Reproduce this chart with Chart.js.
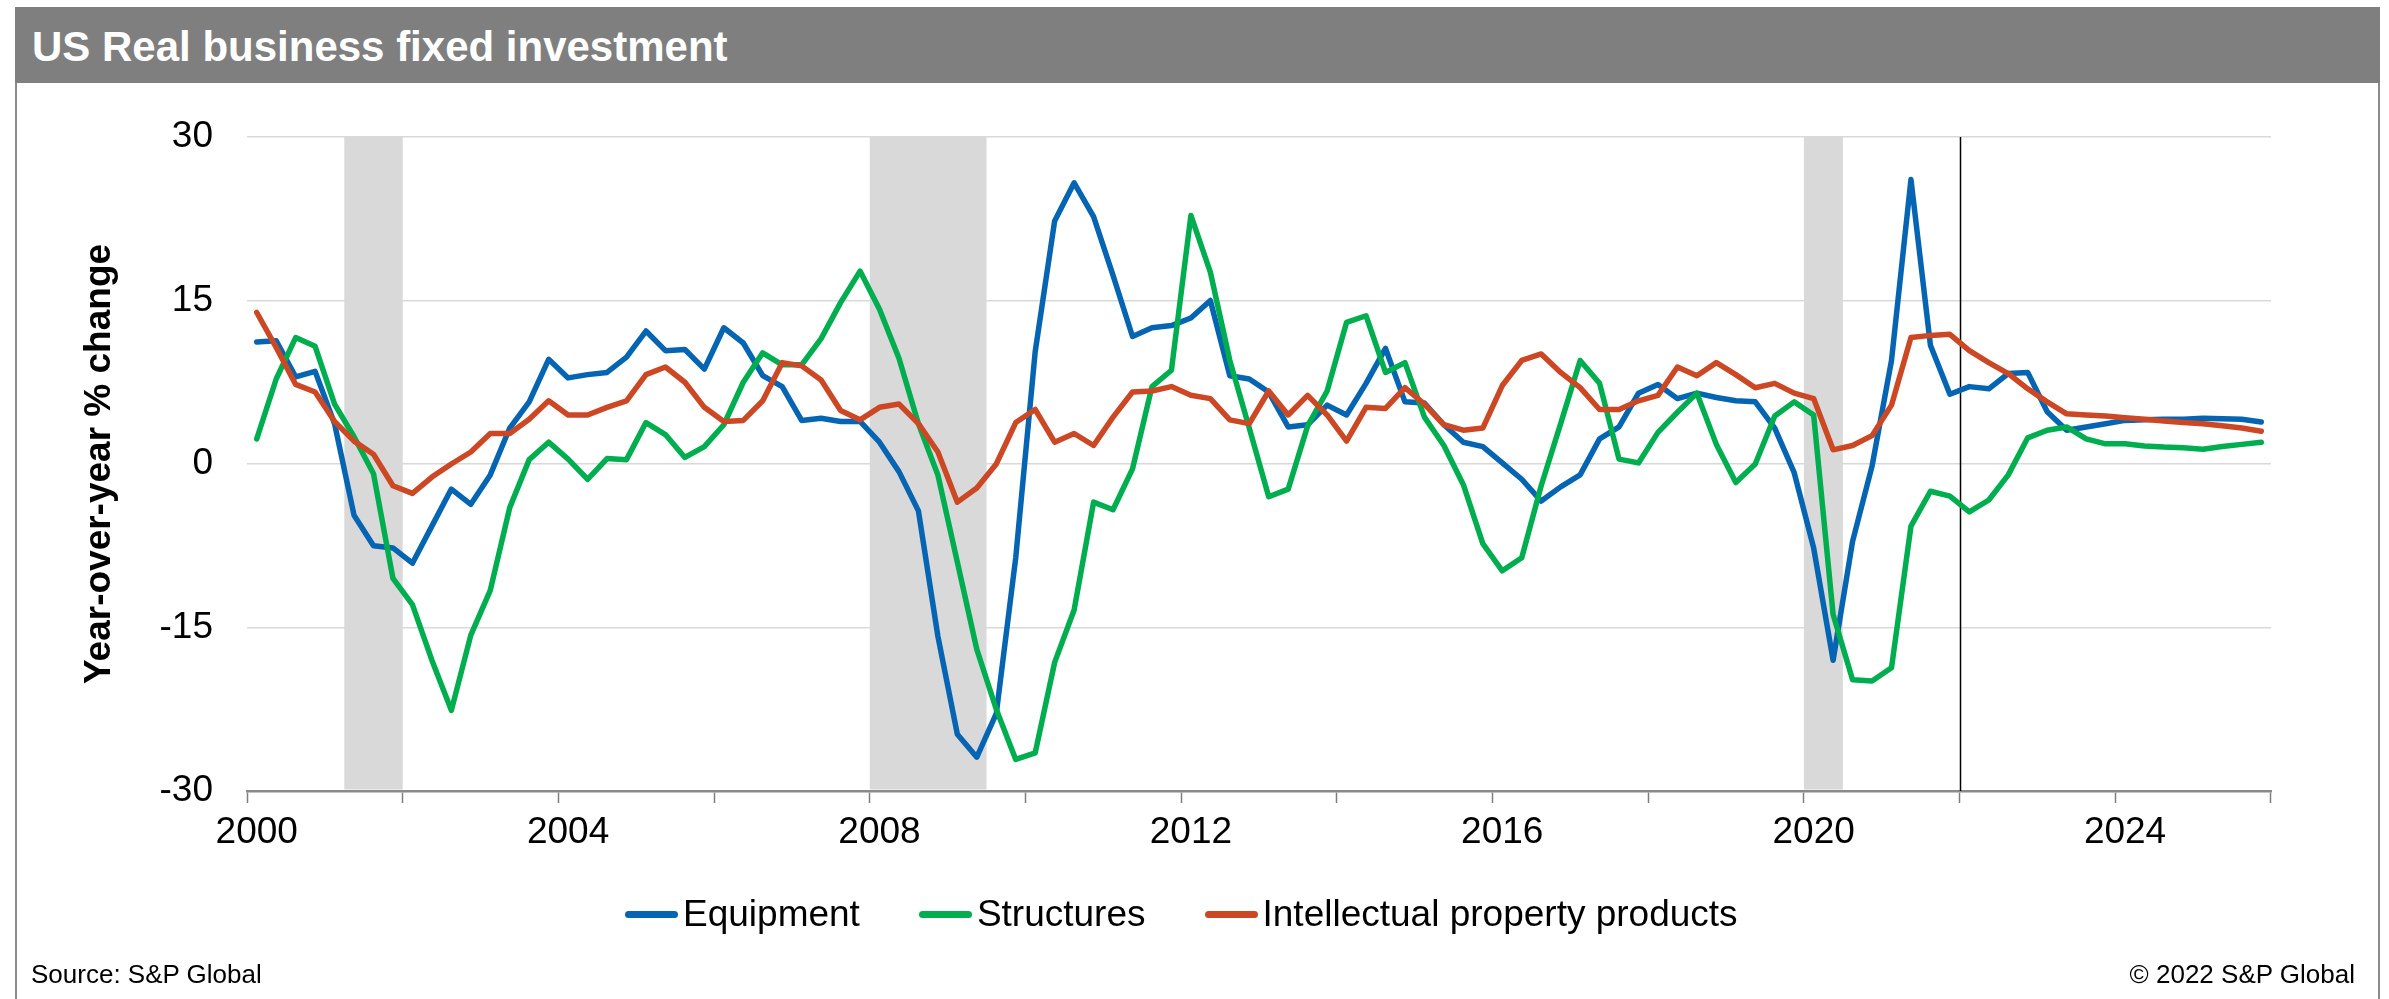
<!DOCTYPE html>
<html>
<head>
<meta charset="utf-8">
<title>US Real business fixed investment</title>
<script src="https://cdn.jsdelivr.net/npm/chart.js@4.4.1/dist/chart.umd.min.js"></script>
<style>
    html, body { margin: 0; padding: 0; background: #fff; }
    body { width: 2389px; height: 999px; position: relative; overflow: hidden; font-family: "Liberation Sans", Arial, sans-serif; color: #000; }
    .frame { position: absolute; left: 15px; top: 7px; width: 2361px; height: 1020px; border-left: 2px solid #8a8a8a; border-right: 2px solid #8a8a8a; box-sizing: border-box; width: 2365px; }
    .title-bar { position: absolute; left: 15px; top: 7px; width: 2365px; height: 76px; background: #7f7f7f; color: #fff; font-weight: bold; font-size: 42px; line-height: 76px; padding: 2px 0 0 17px; box-sizing: border-box; }
    #chart { position: absolute; left: 0; top: 0; }
    .legend { position: absolute; left: 625px; top: 892px; height: 44px; display: flex; align-items: center; font-size: 37px; line-height: 44px; }
    .legend-item { display: flex; align-items: center; margin-right: 59px; }
    .legend-line { width: 53px; height: 7px; border-radius: 4px; margin-right: 5px; }
    .source { position: absolute; left: 31px; top: 959px; font-size: 26px; line-height: 30px; }
    .copy { position: absolute; right: 34px; top: 959px; font-size: 26px; line-height: 30px; }
</style>
</head>
<body>
<div class="frame"></div>
<div class="title-bar">US Real business fixed investment</div>
<canvas id="chart" width="2389" height="999"></canvas>
<div class="legend" id="legend"></div>
<div class="source">Source: S&amp;P Global</div>
<div class="copy">© 2022 S&amp;P Global</div>

<script>
// quarterly categories 2000Q1 .. 2025Q4
const years = [];
for (let y = 2000; y <= 2025; y++) years.push(y);
const quarters = [];
years.forEach(y => { for (let q = 1; q <= 4; q++) quarters.push(y + 'Q' + q); });

const equipment = [
    11.2, 11.3, 8.0, 8.5, 3.7, -4.7, -7.5, -7.7,
    -9.1, -5.7, -2.3, -3.7, -1.0, 3.3, 5.7, 9.6,
    7.9, 8.2, 8.4, 9.8, 12.2, 10.4, 10.5, 8.7,
    12.5, 11.1, 8.1, 7.1, 4.0, 4.2, 3.9, 3.9,
    2.0, -0.7, -4.3, -15.8, -24.8, -26.9, -22.9, -8.6,
    10.3, 22.3, 25.8, 22.7, 17.3, 11.7, 12.5, 12.7,
    13.4, 15.0, 8.1, 7.8, 6.6, 3.4, 3.6, 5.4,
    4.5, 7.4, 10.6, 5.7, 5.6, 3.6, 2.0, 1.6,
    0.1, -1.4, -3.4, -2.1, -1.0, 2.3, 3.4, 6.5,
    7.3, 6.0, 6.5, 6.1, 5.8, 5.7, 3.3, -0.8,
    -7.7, -18.0, -7.1, -0.2, 9.5, 26.1, 10.9, 6.4,
    7.1, 6.9, 8.3, 8.4, 4.8, 3.1, 3.4, 3.7,
    4.0, 4.05, 4.1, 4.1, 4.2, 4.15, 4.1, 3.85
];
const structures = [
    2.3, 7.8, 11.6, 10.8, 5.5, 2.5, -0.9, -10.5,
    -12.9, -18.0, -22.6, -15.7, -11.6, -4.0, 0.4, 2.0,
    0.45, -1.4, 0.5, 0.4, 3.8, 2.7, 0.6, 1.6,
    3.6, 7.5, 10.2, 9.1, 9.1, 11.5, 14.8, 17.7,
    14.2, 9.7, 3.7, -1.0, -9.0, -17.0, -22.5, -27.1,
    -26.5, -18.2, -13.4, -3.5, -4.2, -0.45, 7.1, 8.6,
    22.8, 17.6, 9.5, 3.3, -3.0, -2.3, 3.5, 6.7,
    13.0, 13.6, 8.4, 9.3, 4.3, 1.7, -1.9, -7.3,
    -9.8, -8.6, -2.0, 3.7, 9.5, 7.4, 0.45, 0.1,
    2.9, 4.75, 6.5, 1.8, -1.7, 0.0, 4.4, 5.7,
    4.5, -13.8, -19.8, -19.9, -18.7, -5.7, -2.5, -2.95,
    -4.4, -3.3, -1.0, 2.4, 3.1, 3.4, 2.3, 1.85,
    1.85, 1.65, 1.55, 1.5, 1.35, 1.6, 1.8, 2.0
];
const ipProducts = [
    13.9, 10.7, 7.3, 6.6, 3.9, 2.1, 0.9, -2.0,
    -2.7, -1.2, 0.0, 1.1, 2.8, 2.8, 4.1, 5.8,
    4.5, 4.5, 5.2, 5.8, 8.2, 8.9, 7.5, 5.2,
    3.9, 4.0, 5.8, 9.3, 9.0, 7.7, 4.9, 4.05,
    5.2, 5.5, 3.7, 1.1, -3.5, -2.2, 0.0, 3.8,
    5.0, 2.0, 2.8, 1.7, 4.3, 6.6, 6.7, 7.1,
    6.3, 6.0, 4.05, 3.7, 6.7, 4.5, 6.3, 4.5,
    2.1, 5.2, 5.1, 7.0, 5.5, 3.6, 3.1, 3.3,
    7.2, 9.5, 10.1, 8.4, 7.0, 5.0, 5.0, 5.8,
    6.3, 8.9, 8.1, 9.3, 8.2, 7.0, 7.4, 6.5,
    6.0, 1.3, 1.7, 2.6, 5.4, 11.6, 11.8, 11.9,
    10.4, 9.3, 8.3, 6.9, 5.7, 4.6, 4.5, 4.4,
    4.25, 4.1, 3.95, 3.8, 3.7, 3.5, 3.3, 3.0
];

const yTicks = [-30, -15, 0, 15, 30];
const recessions = [['2001Q2', '2001Q4'], ['2008Q1', '2009Q2'], ['2020Q1', '2020Q2']];
const forecastStart = '2022Q1';

const seriesNames = ['Equipment', 'Structures', 'Intellectual property products'];
const seriesColors = ['#0565b3', '#00ae4f', '#cc4824'];

Chart.defaults.font.family = '"Liberation Sans", Arial, sans-serif';
Chart.defaults.color = '#000';

// recession shading + forecast divider, under the lines
const bandsPlugin = {
    id: 'bands',
    beforeDatasetsDraw(chart) {
        const { ctx, chartArea, scales: { x } } = chart;
        ctx.save();
        ctx.fillStyle = '#d9d9d9';
        recessions.forEach(([a, b]) => {
            const x0 = x.getPixelForValue(quarters.indexOf(a) - 0.5);
            const x1 = x.getPixelForValue(quarters.indexOf(b) + 0.5);
            ctx.fillRect(x0, chartArea.top, x1 - x0, chartArea.bottom - chartArea.top - 1.5);
        });
        const xf = Math.round(x.getPixelForValue(quarters.indexOf(forecastStart) - 0.5)) + 0.5;
        ctx.strokeStyle = '#000';
        ctx.lineWidth = 1.5;
        ctx.beginPath();
        ctx.moveTo(xf, chartArea.top);
        ctx.lineTo(xf, chartArea.bottom);
        ctx.stroke();
        ctx.restore();
    }
};

const seriesData = [equipment, structures, ipProducts];
new Chart(document.getElementById('chart').getContext('2d'), {
    type: 'line',
    data: {
        labels: quarters,
        datasets: seriesNames.map((name, i) => ({
            label: name,
            data: seriesData[i],
            borderColor: seriesColors[i],
            backgroundColor: seriesColors[i],
            borderWidth: 5.5,
            borderJoinStyle: 'round',
            borderCapStyle: 'round',
            pointRadius: 0,
            tension: 0,
            order: 3 - i
        }))
    },
    options: {
        responsive: false,
        animation: false,
        layout: { padding: { top: 137, right: 118, bottom: 148, left: 0 } },
        plugins: { legend: { display: false }, tooltip: { enabled: false } },
        scales: {
            x: {
                type: 'category',
                offset: true,
                grid: {
                    offset: true,
                    drawOnChartArea: false,
                    tickLength: 12,
                    tickWidth: 1.5,
                    tickColor: c => (c.index === undefined || c.index % 8 === 0) ? '#7f7f7f' : 'rgba(0,0,0,0)'
                },
                border: { color: '#8a8a8a', width: 2.5 },
                ticks: {
                    autoSkip: false,
                    maxRotation: 0,
                    minRotation: 0,
                    padding: 8,
                    font: { size: 37 },
                    color: '#000',
                    callback: function (v, i) { return i % 16 === 0 ? this.getLabelForValue(v).slice(0, 4) : ''; }
                },
                afterFit: s => { s.height = 60; }
            },
            y: {
                min: yTicks[0],
                max: yTicks[yTicks.length - 1],
                afterBuildTicks: s => { s.ticks = yTicks.map(v => ({ value: v })); },
                ticks: { padding: 34, font: { size: 37 }, color: '#000' },
                grid: { color: '#d9d9d9', lineWidth: 1.5, drawTicks: false },
                border: { display: false },
                title: {
                    display: true,
                    text: 'Year-over-year % change',
                    font: { size: 37, weight: 'bold', lineHeight: 1.2 },
                    color: '#000',
                    padding: { top: 78, bottom: 0 }
                },
                afterFit: s => { s.width = 247; }
            }
        }
    },
    plugins: [bandsPlugin]
});

document.getElementById('legend').innerHTML = seriesNames.map((name, i) => `
    <div class="legend-item">
        <span class="legend-line" style="background:${seriesColors[i]}"></span>
        <span>${name}</span>
    </div>`).join('');
</script>
</body>
</html>
